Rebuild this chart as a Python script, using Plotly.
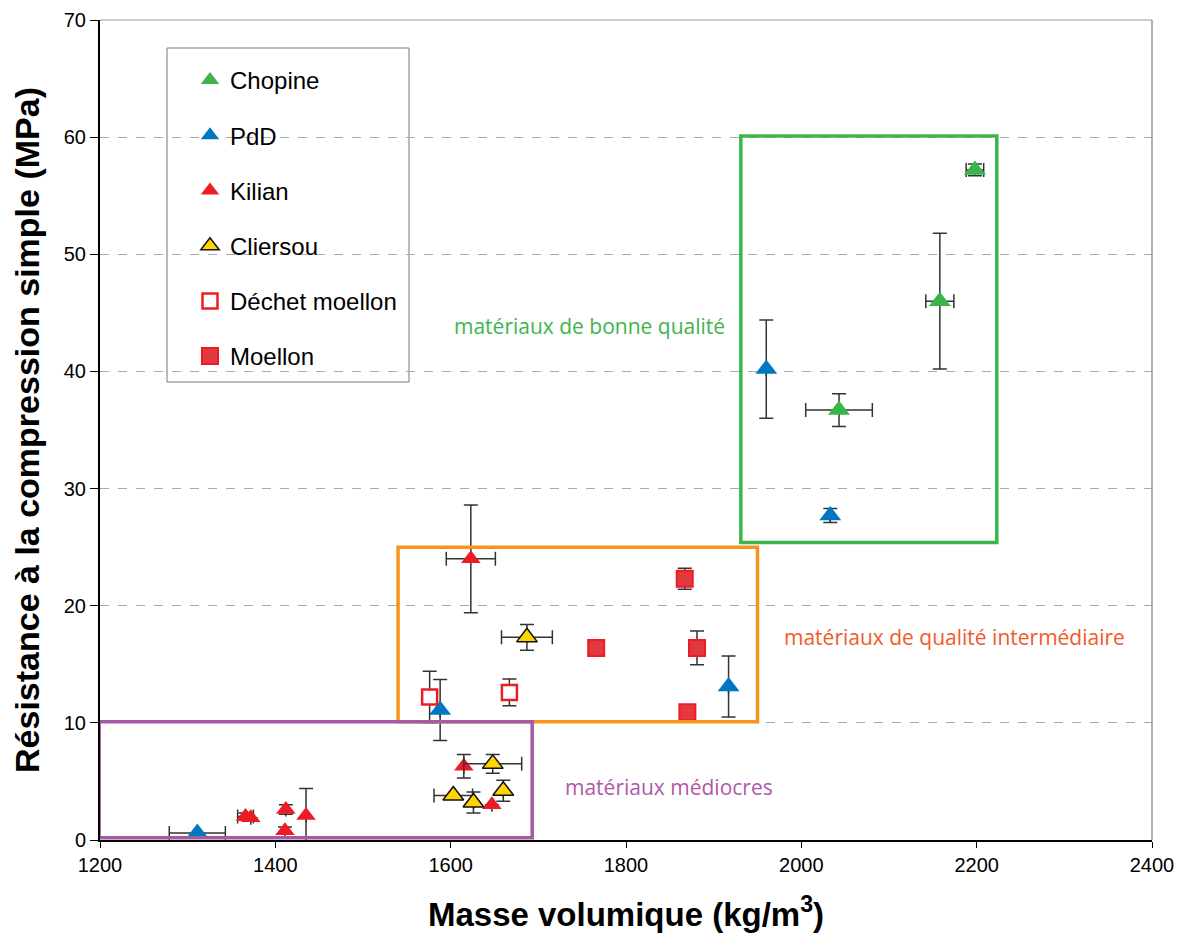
import plotly.graph_objects as go

# series data: density (kg/m3), strength (MPa), and error half-widths
chopine_x = [2043, 2158, 2198]
chopine_y = [36.7, 46.0, 57.2]
chopine_xerr = [38, 16, 10]
chopine_yerr = [1.4, 5.8, 0.5]

pdd_x = [1311, 1588, 1917, 1960, 2033]
pdd_y = [0.6, 11.1, 13.1, 40.2, 27.7]
pdd_xerr = [32, None, None, None, None]
pdd_yerr = [None, 2.6, 2.6, 4.2, 0.6]

kilian_x = [1623, 1615, 1647, 1366, 1372, 1412, 1411, 1435]
kilian_y = [24.0, 6.3, 3.0, 2.0, 1.9, 2.6, 0.8, 2.1]
kilian_xerr = [28, None, None, 9, None, None, None, None]
kilian_yerr = [4.6, 1.0, None, 0.3, None, 0.4, 0.3, 2.3]

cliersou_x = [1687, 1648, 1603, 1626, 1660]
cliersou_y = [17.3, 6.5, 3.8, 3.2, 4.2]
cliersou_xerr = [29, 33, 22, None, None]
cliersou_yerr = [1.1, 0.8, None, 0.9, 0.9]

dechet_x = [1576, 1667]
dechet_y = [12.2, 12.6]
dechet_yerr = [2.2, 1.15]

moellon_x = [1867, 1766, 1881, 1870]
moellon_y = [22.3, 16.4, 16.4, 10.9]
moellon_yerr = [0.9, None, 1.45, None]

# quality zones: x0, x1, y0, y1
zones = {
    "bonne": (1931, 2223, 25.4, 60.1),
    "intermediaire": (1540, 1950, 10.1, 25.0),
    "mediocre": (1199, 1693, 0.2, 10.1),
}

ERR = "#333333"
# page body has an 8px margin, so the figure is a bit smaller than the window
OFF = 8
W, H = 1183 - OFF, 939 - OFF
ML, MR, MT, MB = 100 - OFF, 31, 20 - OFF, 99


def err(arr):
    if arr is None:
        return dict(visible=False)
    return dict(type="data", array=arr, color=ERR, thickness=1.5, width=7)


fig = go.Figure()

series = [
    ("Chopine", chopine_x, chopine_y, chopine_xerr, chopine_yerr,
     dict(symbol="triangle-up", size=19, color="#39b54a", line=dict(width=0))),
    ("PdD", pdd_x, pdd_y, pdd_xerr, pdd_yerr,
     dict(symbol="triangle-up", size=19, color="#0078c1", line=dict(width=0))),
    ("Kilian", kilian_x, kilian_y, kilian_xerr, kilian_yerr,
     dict(symbol="triangle-up", size=17, color="#ed1c24", line=dict(width=0))),
    ("Cliersou", cliersou_x, cliersou_y, cliersou_xerr, cliersou_yerr,
     dict(symbol="triangle-up", size=18, color="#ffd400", line=dict(width=1.5, color="#111111"))),
    ("Déchet moellon", dechet_x, dechet_y, None, dechet_yerr,
     dict(symbol="square", size=15, color="white", line=dict(width=2.5, color="#ed1c24"))),
    ("Moellon", moellon_x, moellon_y, None, moellon_yerr,
     dict(symbol="square", size=16, color="#e2383f", line=dict(width=2, color="#ed1c24"))),
]

for i, (name, x, y, xe, ye, mk) in enumerate(series):
    fig.add_trace(go.Scatter(
        x=x, y=y, mode="markers", name=name, marker=mk,
        error_x=err(xe), error_y=err(ye),
        legendgroup=f"g{i}",
    ))

zone_colors = {"bonne": "#3cb54a", "intermediaire": "#f7941d", "mediocre": "#a55aa6"}
for key, (x0, x1, y0, y1) in zones.items():
    fig.add_shape(type="rect", x0=x0, x1=x1, y0=y0, y1=y1, xref="x", yref="y",
                  line=dict(color=zone_colors[key], width=3.5), layer="above")

# top / right light frame
fig.add_shape(type="line", xref="paper", yref="paper", x0=0, x1=1, y0=1, y1=1,
              line=dict(color="#999999", width=1))
fig.add_shape(type="line", xref="paper", yref="paper", x0=1, x1=1, y0=0, y1=1,
              line=dict(color="#999999", width=1.5))


def px_x(p):
    return (p - OFF - ML) / (W - ML - MR)


def px_y(p):
    return 1 - (p - OFF - MT) / (H - MT - MB)


# legend frame
fig.add_shape(type="rect", xref="paper", yref="paper",
              x0=px_x(167), x1=px_x(409), y0=px_y(382), y1=px_y(48),
              line=dict(color="#777777", width=1), fillcolor="white", layer="below")

ann_font = "Open Sans, Liberation Sans, sans-serif"
fig.add_annotation(x=1758, y=43.9, text="matériaux de bonne qualité", showarrow=False,
                   font=dict(size=21, color="#3cb54a", family=ann_font))
fig.add_annotation(x=2175, y=17.3, text="matériaux de qualité intermédiaire", showarrow=False,
                   font=dict(size=21, color="#f15a29", family=ann_font))
fig.add_annotation(x=1849, y=4.5, text="matériaux médiocres", showarrow=False,
                   font=dict(size=21, color="#b057a8", family=ann_font))

fig.update_layout(
    width=W, height=H,
    margin=dict(l=ML, r=MR, t=MT, b=MB),
    plot_bgcolor="white", paper_bgcolor="white",
    font=dict(family="Liberation Sans, Arial, sans-serif", color="black"),
    legend=dict(
        x=px_x(190), y=px_y(58), xanchor="left", yanchor="top",
        bgcolor="rgba(0,0,0,0)", borderwidth=0,
        font=dict(size=24), tracegroupgap=21, traceorder="grouped",
        itemsizing="trace",
    ),
    xaxis=dict(
        range=[1200, 2400], tickvals=[1200, 1400, 1600, 1800, 2000, 2200, 2400],
        showgrid=False, zeroline=False, showline=True, linecolor="black", linewidth=2,
        ticks="outside", ticklen=6, tickcolor="black", tickfont=dict(size=20),
        automargin=False,
        title=dict(text="<b>Masse volumique (kg/m<sup>3</sup>)</b>", font=dict(size=33), standoff=28),
    ),
    yaxis=dict(
        range=[0, 70], tickvals=[0, 10, 20, 30, 40, 50, 60, 70],
        showgrid=True, gridcolor="#aaaaaa", griddash="dash", gridwidth=1,
        zeroline=False, showline=True, linecolor="black", linewidth=2,
        ticks="outside", ticklen=8, tickcolor="black", tickfont=dict(size=20),
        automargin=False,
        title=dict(text="<b>Résistance à la compression simple (MPa)</b>", font=dict(size=34), standoff=14),
    ),
)

fig.write_html("out.html")
